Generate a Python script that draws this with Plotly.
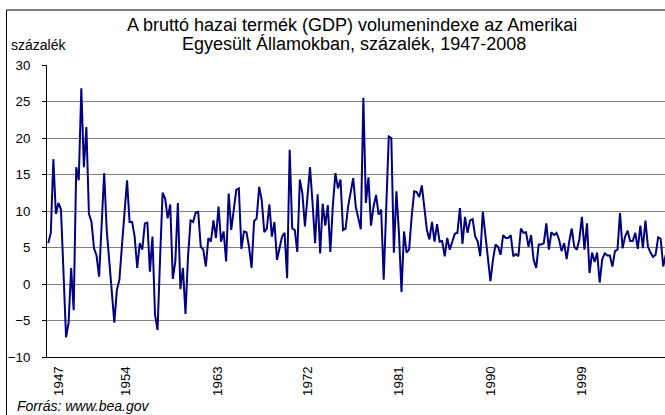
import plotly.graph_objects as go

# Quarterly values (annualized %), first point = 1947 Q2
values = [
    5.6, 7.0, 17.1, 9.6, 11.1, 10.2, 1.5, -7.3, -5.3, 2.2,
    -3.6, 16.0, 14.2, 26.8, 16.0, 21.5, 9.6, 8.5, 4.9, 3.9,
    1.0, 7.9, 15.2, 7.4, 3.5, -0.5, -5.3, -0.8, 0.6, 5.3,
    9.7, 14.2, 8.5, 8.5, 6.5, 2.2, 5.6, 4.7, 8.3, 8.4,
    1.7, 6.5, -4.2, -6.3, 3.5, 12.5, 11.7, 9.0, 10.9, 0.7,
    3.1, 11.1, -0.7, 2.2, -4.1, 3.8, 8.7, 8.5, 9.8, 9.9,
    5.1, 4.7, 2.4, 6.3, 5.8, 8.7, 6.3, 10.6, 5.8, 7.2,
    3.1, 12.4, 7.4, 10.6, 12.9, 13.1, 4.8, 7.2, 7.1, 5.1,
    2.2, 8.6, 9.0, 13.3, 11.5, 7.1, 7.6, 10.9, 6.5, 8.5,
    3.3, 4.9, 6.5, 7.0, 0.8, 18.4, 7.6, 7.4, 4.4, 14.3,
    12.4, 7.9, 11.5, 16.0, 11.1, 5.6, 12.3, 4.2, 11.0, 8.0,
    10.8, 4.4, 10.8, 15.2, 13.1, 14.3, 7.4, 7.6, 10.6, 12.7,
    14.5, 10.6, 9.0, 7.5, 25.5, 11.1, 14.6, 8.0, 10.6, 12.2,
    9.5, 10.2, 0.6, 10.0, 20.2, 20.0, 4.3, 12.7, 7.0, -1.1,
    7.2, 4.3, 4.7, 9.2, 12.7, 12.6, 11.9, 13.5, 10.2, 7.4,
    6.1, 8.5, 5.8, 8.2, 5.8, 5.9, 3.8, 6.3, 4.7, 5.8,
    6.9, 7.0, 10.4, 5.5, 9.2, 7.0, 8.7, 8.9, 6.5, 5.8,
    3.8, 9.9, 6.5, 3.8, 0.4, 3.3, 5.4, 5.1, 4.0, 6.7,
    6.3, 6.3, 6.7, 3.8, 4.1, 3.8, 7.6, 7.0, 7.1, 5.1,
    6.7, 3.3, 2.2, 5.4, 5.4, 5.6, 8.3, 4.7, 7.1, 6.7,
    7.0, 6.1, 4.5, 5.6, 3.4, 5.8, 7.6, 5.1, 4.7, 6.1,
    9.2, 4.7, 8.3, 1.5, 4.3, 3.0, 4.3, 0.2, 3.4, 4.2,
    3.9, 3.9, 2.4, 4.5, 4.7, 9.7, 4.9, 6.5, 7.3, 5.9,
    5.9, 7.0, 4.8, 8.0, 4.9, 8.7, 5.1, 4.3, 3.7, 4.0,
    6.4, 6.2, 2.4, 4.0,
]
quarter_index = list(range(len(values)))

tick_positions = [4, 30.5, 66.5, 102, 138, 174, 210]
tick_labels = ["1947", "1954", "1963", "1972", "1981", "1990", "1999"]

y_ticks = [-10, -5, 0, 5, 10, 15, 20, 25, 30]

title_line1 = "A bruttó hazai termék (GDP) volumenindexe az Amerikai"
title_line2 = "Egyesült Államokban, százalék, 1947-2008"

FONT = "Liberation Sans, Arial, sans-serif"

W, H = 665, 415
ML, MR, MT, MB = 47, 0, 65, 58
PW = W - ML - MR
PH = H - MT - MB


def px_x(px):
    return (px - ML) / PW


def px_y(py):
    return (H - MB - py) / PH


fig = go.Figure()
fig.add_trace(go.Scatter(
    x=quarter_index, y=values, mode="lines",
    line=dict(color="#000080", width=2),
    hoverinfo="skip", showlegend=False,
))

fig.update_layout(
    width=W, height=H,
    margin=dict(l=ML, r=MR, t=MT, b=MB, pad=0),
    paper_bgcolor="white", plot_bgcolor="white",
    font=dict(family=FONT, size=13, color="black"),
    xaxis=dict(
        range=[-0.5, 242.7], showgrid=False, zeroline=False,
        showline=True, linecolor="black", linewidth=1,
        tickmode="array", tickvals=tick_positions, ticktext=tick_labels,
        tickangle=-90, ticks="", tickfont=dict(size=13.3, family=FONT),
        ticklabelstandoff=3,
    ),
    yaxis=dict(
        range=[-10, 30], tickmode="array", tickvals=y_ticks,
        showgrid=True, gridcolor="#808080", gridwidth=1, zeroline=False,
        showline=True, linecolor="black", linewidth=1,
        ticks="outside", ticklen=4, tickcolor="black", tickwidth=1,
        tickfont=dict(size=13.3, family=FONT), ticklabelstandoff=9,
    ),
    annotations=[
        dict(text=title_line1, xref="paper", yref="paper",
             x=px_x(352), y=px_y(25), xanchor="center", yanchor="middle",
             showarrow=False, font=dict(size=18, family=FONT)),
        dict(text=title_line2, xref="paper", yref="paper",
             x=px_x(354), y=px_y(44), xanchor="center", yanchor="middle",
             showarrow=False, font=dict(size=18, family=FONT)),
        dict(text="százalék", xref="paper", yref="paper",
             x=px_x(9), y=px_y(45), xanchor="left", yanchor="middle",
             showarrow=False, font=dict(size=14, family=FONT)),
        dict(text="<i>Forrás: www.bea.gov</i>", xref="paper", yref="paper",
             x=px_x(15), y=px_y(406), xanchor="left", yanchor="middle",
             showarrow=False, font=dict(size=14, family=FONT)),
    ],
    shapes=[
        # chart-area frame (right/bottom edges fall outside the image)
        dict(type="rect", xref="paper", yref="paper", layer="above",
             x0=px_x(6.5), x1=px_x(700), y0=px_y(430), y1=px_y(10),
             line=dict(color="black", width=1), fillcolor="rgba(0,0,0,0)"),
    ],
)

fig.write_html("out.html", config={"displayModeBar": False},
               post_script="document.body.style.margin='0px';")
